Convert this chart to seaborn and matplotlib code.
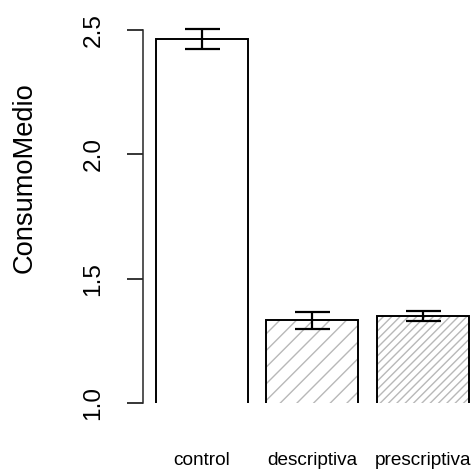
import matplotlib
matplotlib.use("Agg")
import matplotlib.pyplot as plt
import seaborn as sns
import pandas as pd
import numpy as np

categories = ["control", "descriptiva", "prescriptiva"]
means = [2.462, 1.332, 1.348]
errors = [0.040, 0.035, 0.020]
hatches = ["", "//", "////"]
yticks = [1.0, 1.5, 2.0, 2.5]
ytick_labels = ["1.0", "1.5", "2.0", "2.5"]

sns.set_style("white")
plt.rcParams["font.family"] = ["Liberation Sans", "DejaVu Sans"]
plt.rcParams["hatch.linewidth"] = 1.0

df = pd.DataFrame({"grupo": categories, "ConsumoMedio": means})

fig = plt.figure(figsize=(4.71, 4.69), dpi=100)
W, H = 471.0, 469.0
ax_left_px, ax_right_px = 142.5, 471.0
ax_top_px, ax_bot_px = 15.0, 403.0
ax = fig.add_axes([ax_left_px / W, (H - ax_bot_px) / H,
                   (ax_right_px - ax_left_px) / W, (ax_bot_px - ax_top_px) / H])

bw = 1 / 1.2
# hatched fill layer
sns.barplot(data=df, x="grupo", y="ConsumoMedio", order=categories, color="white",
            width=bw, errorbar=None, linewidth=0, edgecolor="#b8b8b8", ax=ax,
            saturation=1)
for p, h in zip(ax.patches, hatches):
    p.set_hatch(h)
    p.set_edgecolor("#b8b8b8")
    p.set_linewidth(0)
n_fill = len(ax.patches)
# outline layer
sns.barplot(data=df, x="grupo", y="ConsumoMedio", order=categories, fill=False,
            width=bw, errorbar=None, linewidth=1.4, edgecolor="black", ax=ax)
for p in ax.patches[n_fill:]:
    p.set_facecolor("none")
    p.set_edgecolor("black")

ax.errorbar(x=np.arange(len(categories)), y=means, yerr=errors, fmt="none",
            ecolor="black", elinewidth=1.6, capsize=12.6, capthick=1.6, zorder=5,
            clip_on=False)

ax.set_xlim((ax_left_px - 201.7) / 110.6, (ax_right_px - 201.7) / 110.6)
ax.set_ylim(1.0, 1.0 + (ax_bot_px - ax_top_px) / 248.7)

for s in ["top", "right", "bottom"]:
    ax.spines[s].set_visible(False)
ax.spines["left"].set_bounds(1.0, 2.5)
ax.spines["left"].set_linewidth(1.1)

ax.set_yticks(yticks)
ax.set_yticklabels(ytick_labels, rotation=90, va="center", fontsize=17.6)
ax.tick_params(axis="y", direction="out", length=11.5, width=1.1, pad=16,
               left=True, color="black", labelcolor="black")
ax.tick_params(axis="x", length=0, pad=35, labelsize=13.7, labelcolor="black")
ax.set_xlabel("")
ax.set_ylabel("ConsumoMedio", fontsize=19.6, color="black")
ax.yaxis.label.set_va("center")
ax.yaxis.set_label_coords(25 / W, 1 - 177.5 / H, transform=fig.transFigure)

fig.savefig("out.png", dpi=100)
